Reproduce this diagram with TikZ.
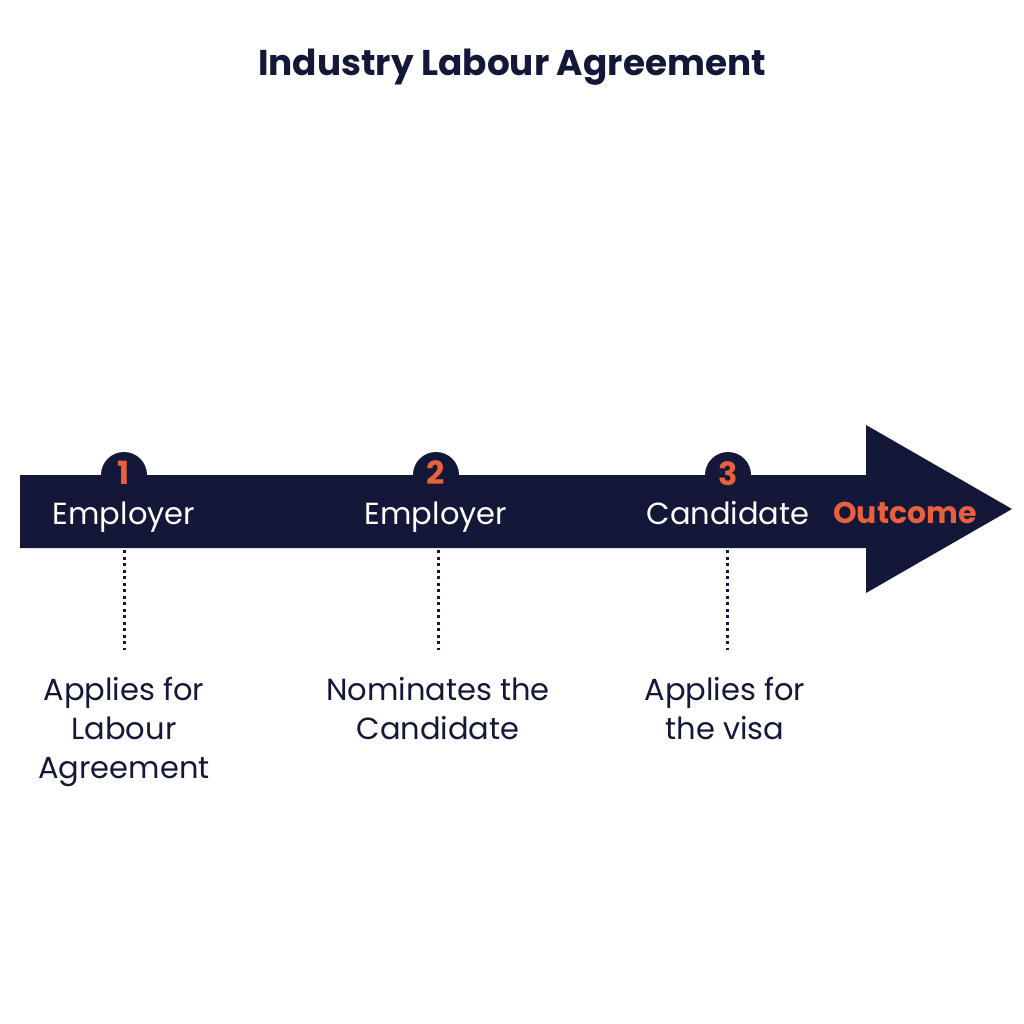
\documentclass[tikz,border=0pt]{standalone}
\usepackage{fontspec}
\setmainfont{Poppins}
\definecolor{navy}{HTML}{141838}
\definecolor{accent}{HTML}{E8603C}
\tikzset{
  lbl/.style={text=navy, font=\fontsize{30.5}{39}\selectfont, align=center, anchor=north, inner sep=0pt},
  bartext/.style={text=white, font=\fontsize{30.5}{34}\selectfont, inner sep=0pt},
  num/.style={text=accent, font=\fontsize{32}{34}\selectfont\bfseries, inner sep=0pt},
  badge/.style={circle, fill=navy, minimum size=46pt, inner sep=0pt},
  dots/.style={navy, line width=3pt, dash pattern=on 3pt off 3.5pt}
}
\begin{document}
\begin{tikzpicture}[x=1pt,y=-1pt]
\useasboundingbox (0,0) rectangle (1024,1024);
\fill[white] (0,0) rectangle (1024,1024);
\node[text=navy, font=\fontsize{35.8}{40}\selectfont\bfseries] (title) at (512,67) {Industry Labour Agreement};
% badges
\node[badge] (b1) at (124,475) {};
\node[badge] (b2) at (436,475) {};
\node[badge] (b3) at (728,475) {};
% arrow
\fill[navy] (20,475) -- (866,475) -- (866,425) -- (1012,509) -- (866,593) -- (866,548) -- (20,548) -- cycle;
\node[num] (n1) at (124,473) {1};
\node[num] (n2) at (436,473) {2};
\node[num] (n3) at (728,474) {3};
\node[bartext] (e1) at (124,517) {Employer};
\node[bartext] (e2) at (436,517) {Employer};
\node[bartext] (e3) at (728,513) {Candidate};
\node[text=accent, font=\fontsize{30}{34}\selectfont\bfseries, inner sep=0pt] (out) at (905,513) {Outcome};
% dotted connectors
\coordinate (t1) at (124,550); \coordinate (d1) at (124,650);
\coordinate (t2) at (438,550); \coordinate (d2) at (438,650);
\coordinate (t3) at (727,550); \coordinate (d3) at (727,650);
\draw[dots] (t1) -- (d1);
\draw[dots] (t2) -- (d2);
\draw[dots] (t3) -- (d3);
\node[lbl] (l1) at (124,677) {Applies for\\Labour\\Agreement};
\node[lbl] (l2) at (438,677) {Nominates the\\Candidate};
\node[lbl] (l3) at (725,677) {Applies for\\the visa};
\end{tikzpicture}
\end{document}
